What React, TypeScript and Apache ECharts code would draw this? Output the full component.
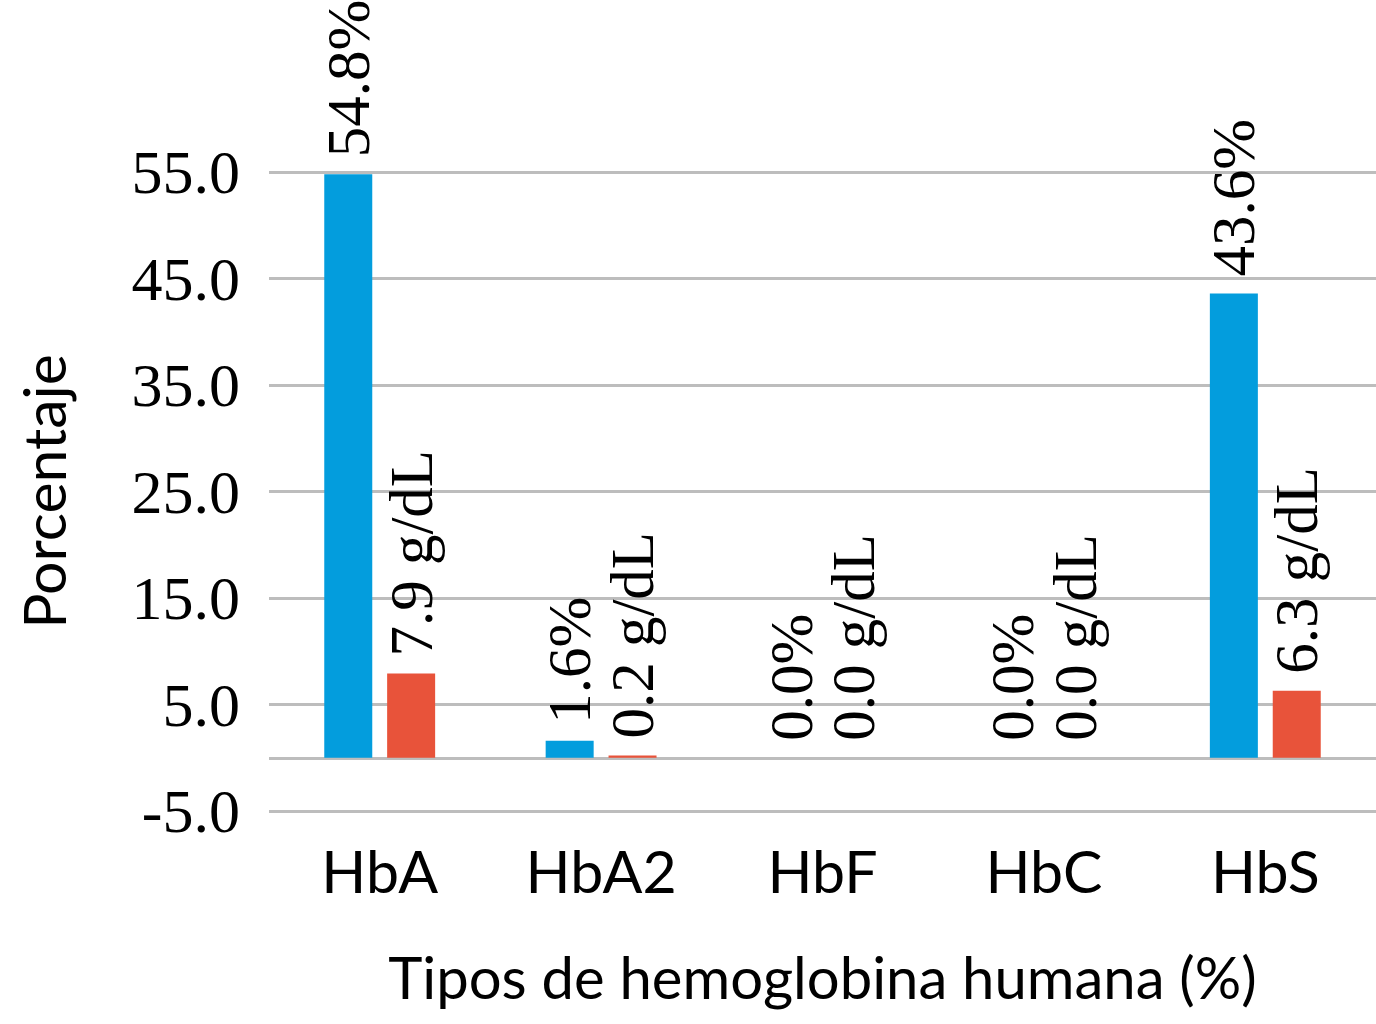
import React, { useEffect, useRef } from "react";
import * as echarts from "echarts";

const categories = ["HbA", "HbA2", "HbF", "HbC", "HbS"];
const percentValues = [54.8, 1.6, 0.0, 0.0, 43.6];
const gdlValues = [7.9, 0.2, 0.0, 0.0, 6.3];
const yMin = -5;
const yMax = 55;
const yInterval = 10;
const xAxisTitle = "Tipos de hemoglobina humana (%)";
const yAxisTitle = "Porcentaje";

const BLUE = "#039ddd";
const RED = "#e8533a";
const GRID = "#bdbdbd";
const SERIF = "'Liberation Serif', 'Times New Roman', serif";
const SANS = "Lato, 'Liberation Sans', sans-serif";

export default function App() {
  const ref = useRef<HTMLDivElement>(null);
  useEffect(() => {
    if (!ref.current) return;
    const chart = echarts.init(ref.current, undefined, { renderer: "svg" });
    const valueLabel = (suffix: string) => ({
      show: true,
      position: "top" as const,
      rotate: 90,
      align: "left" as const,
      verticalAlign: "middle" as const,
      distance: 17,
      fontFamily: SERIF,
      fontSize: 61,
      color: "#000",
      formatter: (p: any) => `${Number(p.value).toFixed(1)}${suffix}`,
    });
    chart.setOption({
      animation: false,
      backgroundColor: "#fff",
      grid: { left: 269, right: 0, top: 172, bottom: 213, containLabel: false },
      xAxis: {
        type: "category",
        data: categories,
        axisLine: { show: false, onZero: false },
        axisTick: { show: false },
        axisLabel: { fontFamily: SANS, fontSize: 59, color: "#000", margin: 30 },
        name: xAxisTitle,
        nameLocation: "middle",
        nameGap: 136,
        nameTextStyle: { fontFamily: SANS, fontSize: 58, color: "#000" },
      },
      yAxis: {
        type: "value",
        min: yMin,
        max: yMax,
        interval: yInterval,
        axisLine: { show: false },
        axisTick: { show: false },
        splitLine: { lineStyle: { color: GRID, width: 3 } },
        axisLabel: {
          fontFamily: SERIF,
          fontSize: 62,
          color: "#000",
          margin: 29,
          formatter: (v: number) => v.toFixed(1),
        },
        name: yAxisTitle,
        nameLocation: "middle",
        nameGap: 196,
        nameTextStyle: { fontFamily: SANS, fontSize: 59, color: "#000" },
      },
      series: [
        {
          type: "bar",
          data: percentValues,
          barWidth: 48,
          barGap: "31%",
          itemStyle: { color: BLUE },
          label: valueLabel("%"),
          z: 3,
          markLine: {
            silent: true,
            symbol: "none",
            label: { show: false },
            lineStyle: { color: GRID, width: 3, type: "solid" },
            data: [{ yAxis: 0 }],
            z: 1,
          },
        },
        {
          type: "bar",
          data: gdlValues,
          barWidth: 48,
          barGap: "31%",
          itemStyle: { color: RED },
          label: valueLabel(" g/dL"),
          z: 3,
        },
      ],
    });
    return () => chart.dispose();
  }, []);
  return (
    <div
      ref={ref}
      style={{ position: "fixed", left: 0, top: 0, width: 1376, height: 1024 }}
    />
  );
}
